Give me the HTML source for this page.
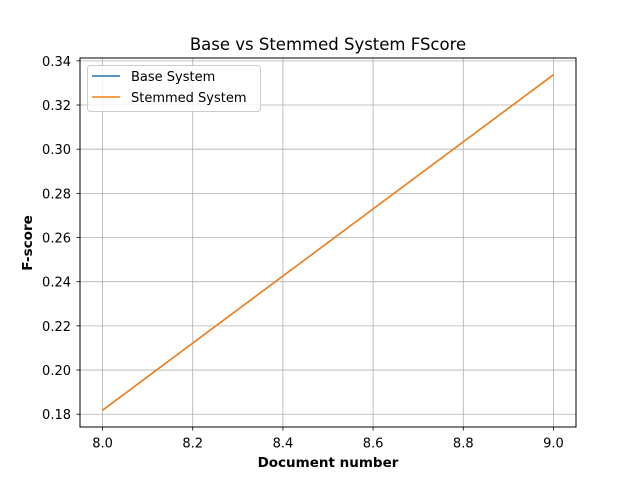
<!DOCTYPE html>
<html><head><meta charset="utf-8"><style>
body{margin:0;background:#fff}
svg text{font-family:"DejaVu Sans","Liberation Sans",sans-serif;fill:#000}
</style></head><body>
<svg id="chart" width="640" height="480" xmlns="http://www.w3.org/2000/svg">
<rect width="640" height="480" fill="#fff"/>
<g id="grid"></g><g id="lines"></g><g id="ticks"></g>
<rect x="80" y="58" width="496" height="369" fill="none" stroke="#000" stroke-width="1"/>
<text x="328" y="50" font-size="16.5" text-anchor="middle">Base vs Stemmed System FScore</text>
<text x="328" y="467" font-size="13.5" font-weight="bold" text-anchor="middle">Document number</text>
<text transform="translate(32,243) rotate(-90)" font-size="13.5" font-weight="bold" text-anchor="middle">F-score</text>
<g>
<rect x="87.5" y="65.5" width="173" height="46" rx="3" fill="#fff" fill-opacity="0.8" stroke="#ccc"/>
<line x1="92" y1="76" x2="120" y2="76" stroke="#1f77b4" stroke-width="1.5"/>
<text x="131" y="81" font-size="13">Base System</text>
<line x1="92" y1="97" x2="120" y2="97" stroke="#ff7f0e" stroke-width="1.5"/>
<text x="131" y="102" font-size="13">Stemmed System</text>
</g>
</svg>
<script>
const xValues=[8.0,9.0];
const baseValues=[0.1818,0.3337];
const stemmedValues=[0.1818,0.3337];
const xTicks=["8.0","8.2","8.4","8.6","8.8","9.0"];
const yTicks=["0.18","0.20","0.22","0.24","0.26","0.28","0.30","0.32","0.34"];
const L=80,R=576,T=58,B=427;
const x0=7.95,x1=9.05,y0=0.17421,y1=0.34129;
const sx=v=>L+(v-x0)/(x1-x0)*(R-L);
const sy=v=>B-(v-y0)/(y1-y0)*(B-T);
const NS="http://www.w3.org/2000/svg";
function mk(tag,attrs,parent,txt){const e=document.createElementNS(NS,tag);for(const k in attrs)e.setAttribute(k,attrs[k]);if(txt!==undefined)e.textContent=txt;document.getElementById(parent).appendChild(e);return e;}
xTicks.forEach(t=>{const x=sx(parseFloat(t));
 const g=mk('line',{x1:x,x2:x,y1:T,y2:B,stroke:'#b0b0b0','stroke-width':0.8},'grid');
 
 
 mk('line',{x1:x,x2:x,y1:B,y2:B+3.5,stroke:'#000','stroke-width':0.8},'ticks');
 const l=mk('text',{x:x,y:B+20.5,'font-size':13,'text-anchor':'middle'},'ticks',t);
 
 });
yTicks.forEach(t=>{const y=sy(parseFloat(t));
 const g=mk('line',{x1:L,x2:R,y1:y,y2:y,stroke:'#b0b0b0','stroke-width':0.8},'grid');
 
 
 mk('line',{x1:L-3.5,x2:L,y1:y,y2:y,stroke:'#000','stroke-width':0.8},'ticks');
 const l=mk('text',{x:L-9,y:y+5,'font-size':13,'text-anchor':'end'},'ticks',t);
 
 });
function pts(vals){return xValues.map((v,i)=>sx(v)+','+sy(vals[i])).join(' ');}
const b=mk('polyline',{points:pts(baseValues),fill:'none',stroke:'#1f77b4','stroke-width':1.5},'lines');


const s=mk('polyline',{points:pts(stemmedValues),fill:'none',stroke:'#ff7f0e','stroke-width':1.5},'lines');


</script>
</body></html>
